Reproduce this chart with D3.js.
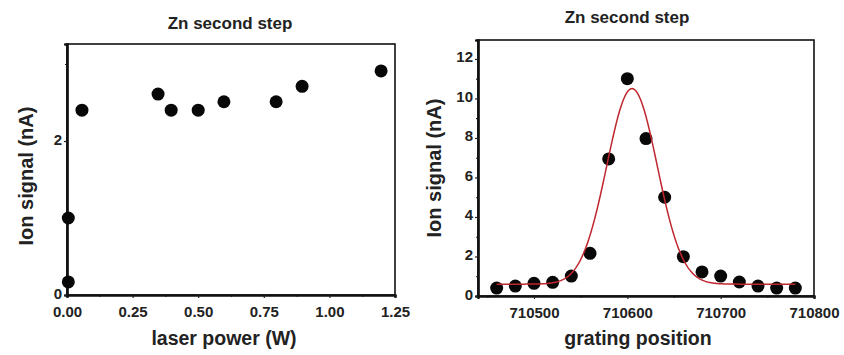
<!DOCTYPE html>
<html>
<head>
<meta charset="utf-8">
<script src="https://cdn.jsdelivr.net/npm/d3@7"></script>
<style>
  body { margin: 0; background: #fff; }
  text { font-family: "Liberation Sans", Arial, sans-serif; font-weight: bold; fill: #222; }
</style>
</head>
<body>
<svg id="chart" width="844" height="355"></svg>
<script>
(function() {
  'use strict';

  // left panel: ion signal vs laser power
  var powerW   = [0.005, 0.005, 0.057, 0.347, 0.397, 0.50, 0.598, 0.797, 0.896, 1.197];
  var powerSig = [0.17, 1.0, 2.40, 2.61, 2.40, 2.40, 2.51, 2.51, 2.71, 2.91];
  var powerTicks = [0, 0.25, 0.5, 0.75, 1.0, 1.25];
  var powerSigTicks = [0, 2];

  // right panel: ion signal vs grating position
  var grating = [710460, 710480, 710500, 710520, 710540, 710560, 710580, 710600, 710620,
                 710640, 710660, 710680, 710700, 710720, 710740, 710760, 710780];
  var gratingSig = [0.40, 0.50, 0.64, 0.69, 1.01, 2.16, 6.94, 11.0, 7.97,
                    5.0, 1.99, 1.22, 1.01, 0.71, 0.50, 0.40, 0.40];
  var gratingTicks = [710500, 710600, 710700, 710800];
  var gratingSigTicks = [0, 2, 4, 6, 8, 10, 12];

  // gaussian fit drawn over the points (baseline, amplitude, centre, sigma)
  var fit = {y0: 0.6, a: 9.9, xc: 710605, sigma: 27};

  var svg = d3.select('#chart');

  function drawPanel(opt) {
    var g = svg.append('g');
    var x = d3.scaleLinear().domain(opt.xDomain).range([opt.left, opt.right]);
    var y = d3.scaleLinear().domain(opt.yDomain).range([opt.bottom, opt.top]);

    g.append('text')
      .attr('x', opt.titleX).attr('y', opt.titleY)
      .attr('text-anchor', 'middle')
      .style('font-size', '17px')
      .text('Zn second step');

    // box
    g.append('rect')
      .attr('x', opt.left).attr('y', opt.top)
      .attr('width', opt.right - opt.left).attr('height', opt.bottom - opt.top)
      .attr('fill', 'none').attr('stroke', '#111').attr('stroke-width', 1.6);

    var xAxis = d3.axisBottom(x).tickValues(opt.xTicks).tickSize(3).tickPadding(8)
      .tickFormat(opt.xFormat);
    var xMinor = d3.axisBottom(x).tickValues(opt.xMinor).tickSize(2).tickFormat('');
    var yAxis = d3.axisLeft(y).tickValues(opt.yTicks).tickSize(3).tickPadding(2)
      .tickFormat(d3.format('d'));
    var yMinor = d3.axisLeft(y).tickValues(opt.yMinor).tickSize(2).tickFormat('');

    [[xMinor, 'x'], [xAxis, 'x'], [yMinor, 'y'], [yAxis, 'y']].forEach(function(a) {
      var ag = g.append('g')
        .attr('transform', a[1] === 'x' ? 'translate(0,' + opt.bottom + ')' : 'translate(' + opt.left + ',0)')
        .call(a[0]);
      ag.select('.domain').attr('stroke', '#111').attr('stroke-width', 2.2);
      ag.selectAll('.tick line').attr('stroke', '#222').attr('stroke-width', 1.2);
      ag.selectAll('.tick text').style('font-size', '15px').attr('fill', '#222');
      if (a[1] === 'y') ag.selectAll('.tick text').attr('dy', '0.2em');
    });

    g.append('text')
      .attr('x', (opt.left + opt.right) / 2 + opt.xLabelDx).attr('y', opt.xLabelY)
      .attr('text-anchor', 'middle')
      .style('font-size', '19.5px')
      .text(opt.xLabel);

    g.append('text')
      .attr('transform', 'translate(' + opt.yLabelX + ',' + opt.yLabelY + ') rotate(-90)')
      .attr('text-anchor', 'middle')
      .style('font-size', '20px')
      .text('Ion signal (nA)');

    g.append('g').selectAll('circle')
      .data(opt.xs)
      .enter()
      .append('circle')
      .attr('cx', function(d) { return x(d); })
      .attr('cy', function(d, i) { return y(opt.ys[i]); })
      .attr('r', 6.5)
      .attr('fill', '#080808');

    return {x: x, y: y, g: g};
  }

  drawPanel({
    left: 67, right: 395, top: 44, bottom: 295,
    xDomain: [0, 1.25], yDomain: [0, 3.26],
    xTicks: powerTicks, xMinor: [0.125, 0.375, 0.625, 0.875, 1.125],
    yTicks: powerSigTicks, yMinor: [1, 3],
    xFormat: d3.format('.2f'),
    xs: powerW, ys: powerSig,
    titleX: 230, titleY: 29,
    xLabel: 'laser power (W)', xLabelY: 345, xLabelDx: -7,
    yLabelX: 33, yLabelY: 176
  });

  var right = drawPanel({
    left: 478, right: 814, top: 40, bottom: 296,
    xDomain: [710440, 710800], yDomain: [0, 12.96],
    xTicks: gratingTicks, xMinor: [710450, 710550, 710650, 710750],
    yTicks: gratingSigTicks, yMinor: [1, 3, 5, 7, 9, 11],
    xFormat: d3.format('d'),
    xs: grating, ys: gratingSig,
    titleX: 627, titleY: 23,
    xLabel: 'grating position', xLabelY: 345, xLabelDx: -8,
    yLabelX: 441, yLabelY: 168
  });

  var fitXs = d3.range(710460, 710781, 1);
  var line = d3.line()
    .x(function(d) { return right.x(d); })
    .y(function(d) {
      var dx = d - fit.xc;
      return right.y(fit.y0 + fit.a * Math.exp(-dx * dx / (2 * fit.sigma * fit.sigma)));
    });

  right.g.append('path')
    .datum(fitXs)
    .attr('d', line)
    .attr('fill', 'none')
    .attr('stroke', '#c0262d')
    .attr('stroke-width', 1.5);
})();
</script>
</body>
</html>
